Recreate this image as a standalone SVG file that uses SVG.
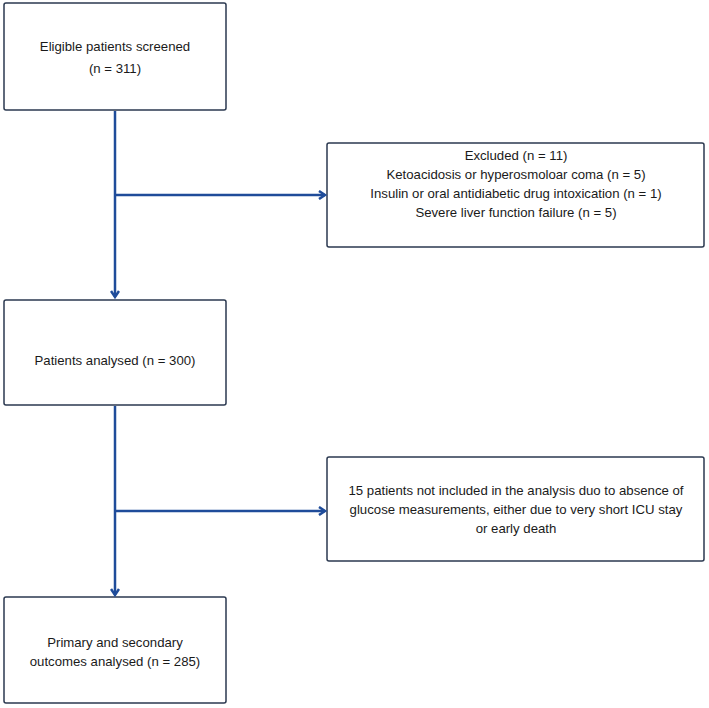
<svg xmlns="http://www.w3.org/2000/svg" width="709" height="708" viewBox="0 0 709 708">
<defs>
<style>
.box{fill:#ffffff;stroke:#2b3950;stroke-width:1.5}
.t{font-family:"Liberation Sans",Arial,sans-serif;font-size:13.2px;fill:#1a1a1a;text-anchor:middle}
.c{fill:none;stroke:#1f4c9a;stroke-width:2.5}
</style>
<marker id="ah" markerWidth="10" markerHeight="10" refX="7" refY="5" orient="auto" markerUnits="userSpaceOnUse">
<path d="M1,1 L7,5 L1,9" fill="none" stroke="#1f4c9a" stroke-width="2.5"/>
</marker>
</defs>
<rect width="709" height="708" fill="#ffffff"/>
<g id="n1"><rect class="box" x="4" y="3" width="222" height="107" rx="2"/>
<text class="t" x="115" y="51">Eligible patients screened</text>
<text class="t" x="115" y="73">(n = 311)</text></g>
<g id="n2"><rect class="box" x="327" y="143" width="377" height="104" rx="2"/>
<text class="t" x="516" y="160">Excluded (n = 11)</text>
<text class="t" x="516" y="179">Ketoacidosis or hyperosmoloar coma (n = 5)</text>
<text class="t" x="516" y="198">Insulin or oral antidiabetic drug intoxication (n = 1)</text>
<text class="t" x="516" y="217">Severe liver function failure (n = 5)</text></g>
<g id="n3"><rect class="box" x="4" y="300" width="222" height="105" rx="2"/>
<text class="t" x="115" y="365">Patients analysed (n = 300)</text></g>
<g id="n4"><rect class="box" x="327" y="457" width="377" height="104" rx="2"/>
<text class="t" x="516" y="495">15 patients not included in the analysis duo to absence of</text>
<text class="t" x="516" y="514">glucose measurements, either due to very short ICU stay</text>
<text class="t" x="516" y="533">or early death</text></g>
<g id="n5"><rect class="box" x="4" y="597" width="222" height="106" rx="2"/>
<text class="t" x="115" y="647">Primary and secondary</text>
<text class="t" x="115" y="666">outcomes analysed (n = 285)</text></g>
<g id="connectors">
<line class="c" x1="115" y1="111" x2="115" y2="297" marker-end="url(#ah)"/>
<line class="c" x1="115" y1="195" x2="325" y2="195" marker-end="url(#ah)"/>
<line class="c" x1="115" y1="406" x2="115" y2="595" marker-end="url(#ah)"/>
<line class="c" x1="115" y1="511" x2="325" y2="511" marker-end="url(#ah)"/>
</g>
</svg>
